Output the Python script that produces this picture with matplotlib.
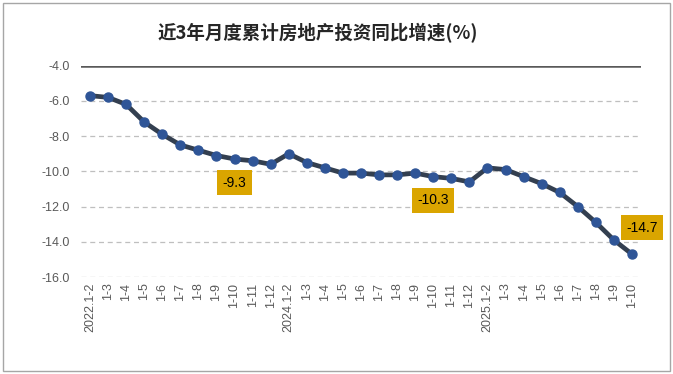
import matplotlib
matplotlib.use("Agg")
import matplotlib.pyplot as plt
from matplotlib.patches import Rectangle

plt.rcParams['font.family'] = ['Liberation Sans', 'Noto Sans CJK SC', 'DejaVu Sans']

labels = ["2022.1-2", "1-3", "1-4", "1-5", "1-6", "1-7", "1-8", "1-9", "1-10", "1-11", "1-12",
          "2024.1-2", "1-3", "1-4", "1-5", "1-6", "1-7", "1-8", "1-9", "1-10", "1-11", "1-12",
          "2025.1-2", "1-3", "1-4", "1-5", "1-6", "1-7", "1-8", "1-9", "1-10"]
values = [-5.7, -5.8, -6.2, -7.2, -7.9, -8.5, -8.8, -9.1, -9.3, -9.4, -9.6,
          -9.0, -9.5, -9.8, -10.1, -10.1, -10.2, -10.2, -10.1, -10.3, -10.4, -10.6,
          -9.8, -9.9, -10.3, -10.7, -11.2, -12.0, -12.9, -13.9, -14.7]
highlight_idx = [8, 19, 30]
yticks = [-4.0, -6.0, -8.0, -10.0, -12.0, -14.0, -16.0]
title = "近3年月度累计房地产投资同比增速(%)"

fig = plt.figure(figsize=(6.73, 3.74), dpi=100)
fig.patch.set_facecolor('white')
ax = fig.add_axes([81/673, 1-277/374, 560/673, 211.3/374])

x = list(range(len(values)))
ax.plot(x, values, color='#333F50', lw=3.4, zorder=3, solid_capstyle='round')
ax.plot(x, values, ls='none', marker='o', ms=6.5, color='#2F5597', zorder=4)

ax.set_xlim(-0.5, len(values) - 0.5)
ax.set_ylim(-16, -4)
ax.set_yticks(yticks)
ax.set_yticklabels([f"{v:.1f}" for v in yticks], color='#595959', fontsize=9)
for v in yticks[1:]:
    ax.axhline(v, color='#BFBFBF', lw=0.9, ls=(0, (4, 3)), zorder=1)
ax.axhline(-4, color='#595959', lw=1.8, zorder=2)

ax.set_xticks(x)
ax.set_xticklabels(labels, rotation=90, color='#595959', fontsize=9, va='top')
ax.tick_params(axis='both', length=0)
ax.tick_params(axis='x', pad=4)
ax.tick_params(axis='y', pad=8)
for s in ax.spines.values():
    s.set_visible(False)

offsets = {8: (0, -17), 19: (0, -17), 30: (7, 19)}
for i in highlight_idx:
    ax.annotate(f"{values[i]:.1f}", (i, values[i]), xytext=offsets[i], textcoords='offset points',
                ha='center', va='center', fontsize=10, color='black',
                bbox=dict(boxstyle='square,pad=0.38', fc='#DAA500', ec='none'), zorder=5,
                annotation_clip=False)

fig.text(318/673, 1-33/374, title, ha='center', va='center', fontsize=13.3,
         fontweight='bold', color='#262626', family=['Noto Sans CJK SC', 'DejaVu Sans'])

fig.patches.append(Rectangle((3/673, 3/374), 667/673, 368/374, transform=fig.transFigure,
                             fill=False, ec='#A6A6A6', lw=1.0))

fig.savefig("out.png", dpi=100)
